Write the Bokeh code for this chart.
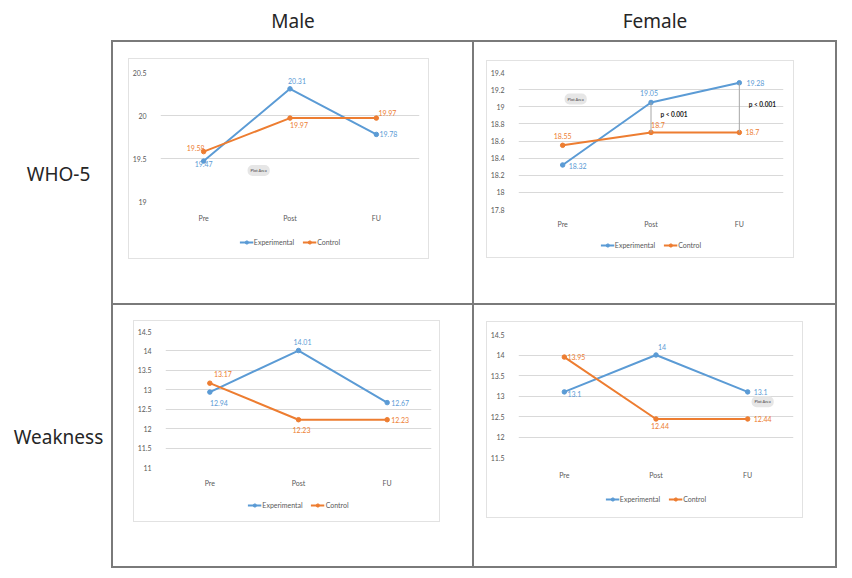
from bokeh.plotting import figure
from bokeh.models import (FactorRange, Range1d, FixedTicker, NumeralTickFormatter,
                          Legend, LegendItem, Spacer, ColumnDataSource)
from bokeh.layouts import row, column
from bokeh.core.properties import value
from bokeh.embed import file_html
from bokeh.resources import INLINE

# ---------------- data ----------------
phases = ["Pre", "Post", "FU"]
groups = ["Male", "Female"]
measures = ["WHO-5", "Weakness"]
series_names = ["Experimental", "Control"]

male_who5_exp = [19.47, 20.31, 19.78]
male_who5_ctrl = [19.58, 19.97, 19.97]
female_who5_exp = [18.32, 19.05, 19.28]
female_who5_ctrl = [18.55, 18.7, 18.7]
male_weak_exp = [12.94, 14.01, 12.67]
male_weak_ctrl = [13.17, 12.23, 12.23]
female_weak_exp = [13.1, 14.0, 13.1]
female_weak_ctrl = [13.95, 12.44, 12.44]

male_who5_ticks = [19, 19.5, 20, 20.5]
female_who5_ticks = [17.8, 18, 18.2, 18.4, 18.6, 18.8, 19, 19.2, 19.4]
male_weak_ticks = [11, 11.5, 12, 12.5, 13, 13.5, 14, 14.5]
female_weak_ticks = [11.5, 12, 12.5, 13, 13.5, 14, 14.5]

p_text = "p < 0.001"
plot_area_text = "Plot Area"

# ---------------- style ----------------
BLUE = "#5b9bd5"
ORANGE = "#ed7d31"
GRID = "#d9d9d9"
TXT = "#595959"
BOXC = "#e2e2e2"
TABLEC = "#7a7a7a"
FONT = "Lato"
FS = "7px"
COLORS = [BLUE, ORANGE]


def bar(w, h, color):
    return Spacer(width=w, height=h, styles={"background-color": color})


def boxed(child, w, h, color):
    return column(bar(w + 2, 1, color),
                  row(bar(1, h, color), child, bar(1, h, color)),
                  bar(w + 2, 1, color))


def bare(w, h):
    f = figure(width=w, height=h, x_range=Range1d(0, 1), y_range=Range1d(0, 1),
               x_axis_type=None, y_axis_type=None, output_backend="svg",
               toolbar_location=None, min_border=0)
    f.outline_line_color = None
    f.xgrid.visible = False
    f.ygrid.visible = False
    return f


def legend_fig(w, h, series):
    # legend-only strip: the series renderers lie outside its (0..1) view,
    # only their legend glyphs are seen
    f = bare(w, h)
    items = []
    for name, col, vals in zip(series_names, COLORS, series):
        src = ColumnDataSource(dict(x=list(range(len(vals))), y=vals))
        lr = f.line("x", "y", source=src, line_color=col, line_width=2)
        sr = f.scatter("x", "y", source=src, marker="circle", size=4.5,
                       fill_color=col, line_color=col)
        items.append(LegendItem(label=name, renderers=[lr, sr]))
    legend = Legend(items=items, orientation="horizontal", location="center",
                    label_text_font=FONT, label_text_font_size=FS,
                    label_text_color=TXT, glyph_width=14, glyph_height=8,
                    label_height=8, label_standoff=1, spacing=8, padding=0,
                    margin=0, border_line_color=None,
                    background_fill_alpha=0)
    f.add_layout(legend)
    return f


def make_chart(exp, ctrl, ticks, w, h, borders, off_exp, off_ctrl,
               standoff, bubble=None, pvals=False):
    left, right, top, bottom = borders
    p = figure(width=w, height=h, x_range=FactorRange(*phases),
               y_range=Range1d(ticks[0], ticks[-1]),
               output_backend="svg", toolbar_location=None,
               min_border_left=left, min_border_right=right,
               min_border_top=top, min_border_bottom=bottom)
    p.outline_line_color = None
    p.background_fill_color = "white"
    p.border_fill_color = "white"
    p.xgrid.grid_line_color = None
    p.ygrid.grid_line_color = GRID
    p.ygrid.grid_line_width = 1
    p.yaxis.ticker = FixedTicker(ticks=ticks)
    p.yaxis.formatter = NumeralTickFormatter(format="0.[0]")
    for ax in (p.xaxis[0], p.yaxis[0]):
        ax.axis_line_color = None
        ax.major_tick_line_color = None
        ax.minor_tick_line_color = None
        ax.major_label_text_font = FONT
        ax.major_label_text_font_size = FS
        ax.major_label_text_color = TXT
    p.yaxis.major_label_standoff = 8
    p.xaxis.major_label_standoff = standoff

    for vals, col, offs in ((exp, BLUE, off_exp), (ctrl, ORANGE, off_ctrl)):
        src = ColumnDataSource(dict(x=phases, y=vals,
                                    t=[f"{v:g}" for v in vals],
                                    dx=[o[0] for o in offs],
                                    dy=[o[1] for o in offs]))
        p.line("x", "y", source=src, line_color=col, line_width=2)
        p.scatter("x", "y", source=src, marker="circle", size=4.5,
                  fill_color=col, line_color=col)
        p.text("x", "y", text="t", source=src, x_offset="dx", y_offset="dy",
               text_font=value(FONT), text_font_size=FS, text_color=col,
               text_align="center", text_baseline="middle")

    if pvals:
        seg = ColumnDataSource(dict(x=phases[1:], y0=ctrl[1:], y1=exp[1:],
                                    ym=[(a + b) / 2 for a, b in zip(ctrl[1:], exp[1:])],
                                    t=[p_text, p_text]))
        p.segment(x0="x", x1="x", y0="y0", y1="y1", source=seg,
                  line_color="#a6a6a6", line_width=1)
        p.text("x", "ym", text="t", source=seg, x_offset=23, y_offset=-3,
               text_font=value(FONT), text_font_size="6.5px", text_color="#222222",
               text_font_style="bold", text_align="center", text_baseline="middle")

    if bubble is not None:
        bx, bdx, by = bubble
        p.text(x=[bx], y=[by], text=[plot_area_text], x_offset=bdx,
               text_font=value(FONT), text_font_size="4px", text_color="#404040",
               text_align="center", text_baseline="middle",
               background_fill_color="#e6e6e6", border_radius=5, padding=3)
    return p


def cell(chart, series, leg_h, cw, ch, iw, ih, ox, oy):
    inner = boxed(column(chart, legend_fig(iw, leg_h, series)), iw, ih, BOXC)
    ow, oh = iw + 2, ih + 2
    return column(Spacer(width=cw, height=oy),
                  row(Spacer(width=ox, height=oh), inner,
                      Spacer(width=cw - ox - ow, height=oh)),
                  Spacer(width=cw, height=ch - oy - oh))


c1 = make_chart(male_who5_exp, male_who5_ctrl, male_who5_ticks, 299, 167,
                (29, 9, 13, 25),
                [(0, 3), (7, -8), (12, 0)], [(-8, -4), (9, 7), (11, -5)],
                6, bubble=("Pre", 55, 19.36))
c2 = make_chart(female_who5_exp, female_who5_ctrl, female_who5_ticks, 306, 172,
                (26, 10, 11, 24),
                [(15, 1), (-2, -9), (16, 0)], [(0, -9), (7, -7), (13, 0)],
                4, bubble=("Pre", 13, 19.09), pvals=True)
c3 = make_chart(male_weak_exp, male_weak_ctrl, male_weak_ticks, 305, 168,
                (21, 8, 10, 22),
                [(9, 11), (4, -9), (13, 0)], [(13, -9), (3, 10), (13, 0)],
                5)
c4 = make_chart(female_weak_exp, female_weak_ctrl, female_weak_ticks, 315, 159,
                (28, 9, 12, 24),
                [(10, 2), (6, -8), (13, 0)], [(12, 0), (4, 7), (15, 0)],
                7, bubble=("FU", 15, 12.86))

cell1 = cell(c1, (male_who5_exp, male_who5_ctrl), 32, 359, 261, 299, 199, 15, 16)
cell2 = cell(c2, (female_who5_exp, female_who5_ctrl), 24, 361, 261, 306, 196, 12, 18)
cell3 = cell(c3, (male_weak_exp, male_weak_ctrl), 32, 359, 261, 305, 200, 20, 15)
cell4 = cell(c4, (female_weak_exp, female_weak_ctrl), 36, 361, 261, 315, 195, 12, 16)

table = column(bar(726, 2, TABLEC),
               row(bar(2, 261, TABLEC), cell1, bar(2, 261, TABLEC), cell2, bar(2, 261, TABLEC)),
               bar(726, 2, TABLEC),
               row(bar(2, 261, TABLEC), cell3, bar(2, 261, TABLEC), cell4, bar(2, 261, TABLEC)),
               bar(726, 2, TABLEC))

SIDE_W = 111
HEAD_H = 40

# header with column titles
header = figure(width=SIDE_W + 726, height=HEAD_H, x_range=Range1d(0, SIDE_W + 726),
                y_range=Range1d(HEAD_H, 0),
                x_axis_type=None, y_axis_type=None, output_backend="svg",
                toolbar_location=None, min_border=0)
header.outline_line_color = None
header.xgrid.visible = False
header.ygrid.visible = False
header.text(x=[SIDE_W + 2 + 359 / 2, SIDE_W + 2 + 359 + 2 + 361 / 2], y=[20, 20], text=groups,
            text_font=value("Noto Sans"), text_font_size="19px", text_color="#262626",
            text_align="center", text_baseline="middle")

side = figure(width=SIDE_W, height=528, x_range=Range1d(0, SIDE_W), y_range=Range1d(528, 0),
              x_axis_type=None, y_axis_type=None, output_backend="svg",
              toolbar_location=None, min_border=0)
side.outline_line_color = None
side.xgrid.visible = False
side.ygrid.visible = False
side.text(x=[58, 58], y=[133, 396], text=measures,
          text_font=value("Noto Sans"), text_font_size="19px", text_color="#262626",
          text_align="center", text_baseline="middle")

layout = column(header, row(side, table))

open("out.html", "w").write(file_html(layout, INLINE))
